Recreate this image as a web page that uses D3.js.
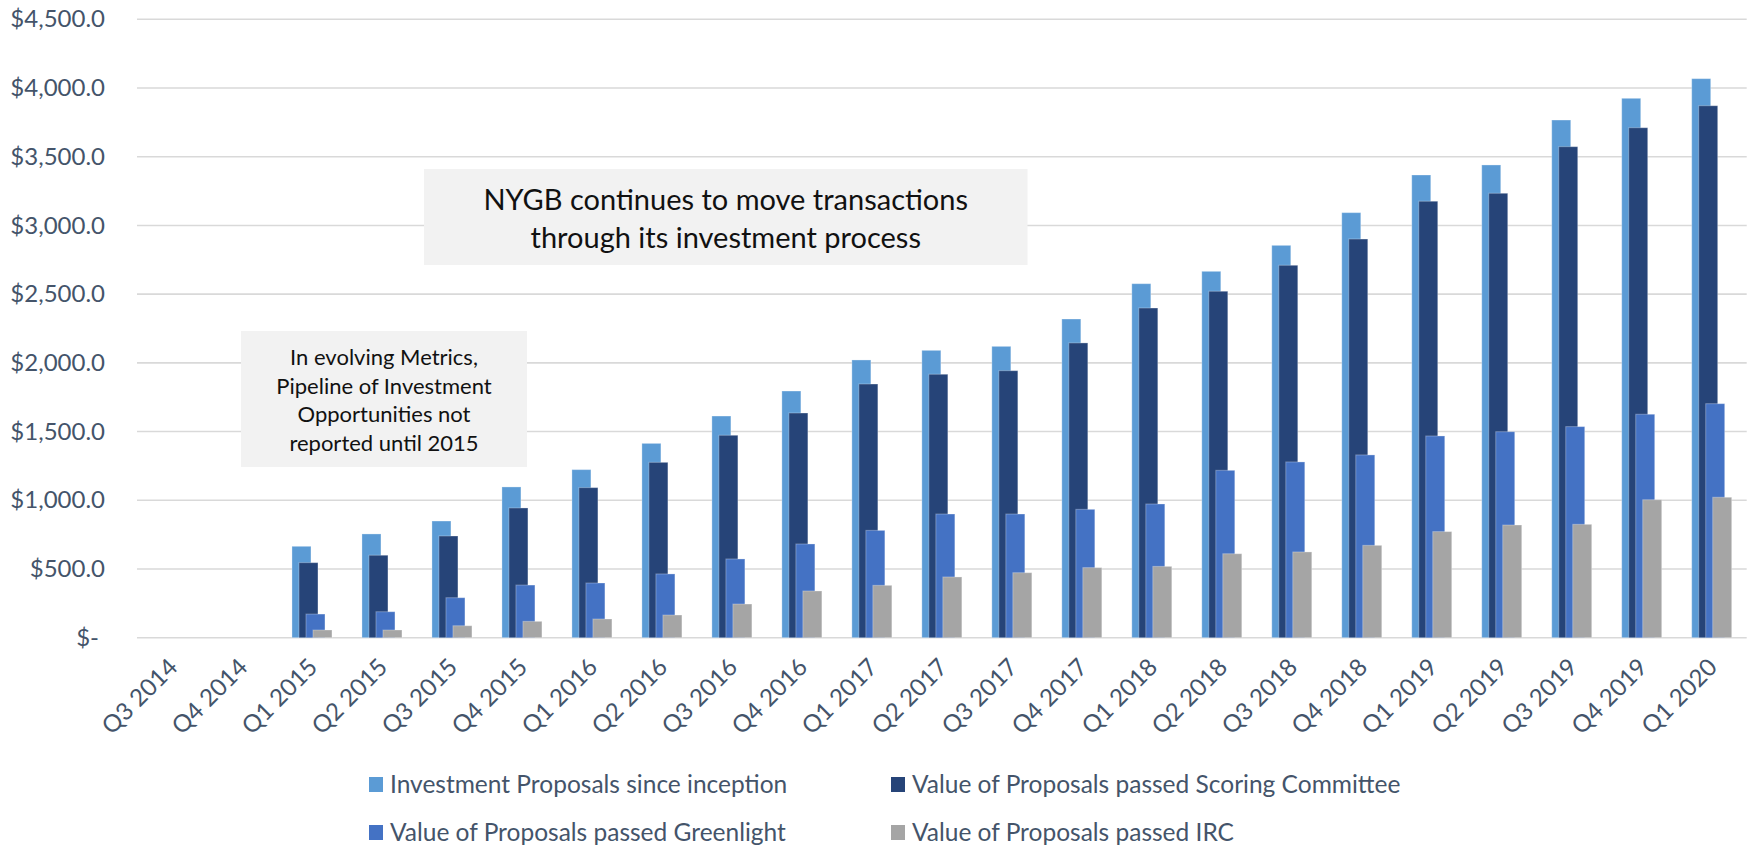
<!DOCTYPE html>
<html>
<head>
<meta charset="utf-8">
<style>
    body { margin: 0; background: #fff; }
    svg { display: block; font-family: Lato, 'Open Sans', sans-serif; }
</style>
</head>
<body>
<svg width="1752" height="846"></svg>
<script src="https://d3js.org/d3.v7.min.js"></script>
<script>
    // chart values
    let quarters = ["Q3 2014", "Q4 2014", "Q1 2015", "Q2 2015", "Q3 2015", "Q4 2015",
        "Q1 2016", "Q2 2016", "Q3 2016", "Q4 2016", "Q1 2017", "Q2 2017", "Q3 2017",
        "Q4 2017", "Q1 2018", "Q2 2018", "Q3 2018", "Q4 2018", "Q1 2019", "Q2 2019",
        "Q3 2019", "Q4 2019", "Q1 2020"]

    let proposals = [null, null, 665, 755, 849, 1097, 1223, 1414, 1613, 1795, 2021, 2091,
        2120, 2319, 2576, 2666, 2855, 3093, 3367, 3440, 3767, 3925, 4068]
    let scoring = [null, null, 546, 600, 740, 944, 1092, 1276, 1473, 1635, 1846, 1917,
        1943, 2145, 2399, 2521, 2710, 2901, 3176, 3234, 3573, 3711, 3871]
    let greenlight = [null, null, 172, 189, 291, 383, 398, 464, 573, 682, 781, 900,
        900, 934, 973, 1218, 1279, 1330, 1468, 1499, 1536, 1626, 1703]
    let irc = [null, null, 56, 56, 87, 119, 136, 165, 245, 340, 381, 442,
        473, 510, 519, 611, 624, 672, 772, 820, 825, 1004, 1022]

    let seriesNames = ["Investment Proposals since inception",
        "Value of Proposals passed Scoring Committee",
        "Value of Proposals passed Greenlight",
        "Value of Proposals passed IRC"]
    let yTicks = [0, 500, 1000, 1500, 2000, 2500, 3000, 3500, 4000, 4500]

    let noteBig = ["NYGB continues to move transactions", "through its investment process"]
    let noteSmall = ["In evolving Metrics,", "Pipeline of Investment", "Opportunities not", "reported until 2015"]

    let colors = ["#5B9BD5", "#264478", "#4472C4", "#A5A5A5"]
    let allSeries = [proposals, scoring, greenlight, irc]

    let svg = d3.select("svg")
    let textColor = "#44546A"

    let x = d3.scaleBand().domain(quarters).range([137, 1746.7]).padding(0)
    let y = d3.scaleLinear().domain([0, 4500]).range([637.7, 19.3])

    // gridlines
    svg.append("g")
        .selectAll("line")
        .data(yTicks)
        .join("line")
        .attr("x1", 137)
        .attr("x2", 1746.7)
        .attr("y1", d => y(d))
        .attr("y2", d => y(d))
        .attr("stroke", "#D9D9D9")
        .attr("stroke-width", 1.6)

    // y axis labels
    let fmt = v => v === 0 ? "$-" : "$" + d3.format(",.1f")(v)
    let yAxis = svg.append("g")
        .attr("transform", "translate(105,0)")
        .call(d3.axisLeft(y).tickValues(yTicks).tickFormat(fmt).tickSize(0).tickPadding(0))
    yAxis.select(".domain").remove()
    yAxis.selectAll("text")
        .attr("fill", textColor)
        .style("font-size", "24px")
        .style("font-family", "Lato")
        .attr("x", d => d === 0 ? -6 : 0)

    // bars
    let bw = x.bandwidth() * 0.2714
    let step = x.bandwidth() * 0.1
    let groupW = bw + step * 3

    allSeries.forEach((vals, i) => {
        svg.append("g")
            .selectAll("rect")
            .data(quarters.map((q, j) => ({ q: q, v: vals[j] })).filter(d => d.v != null))
            .join("rect")
            .attr("x", d => x(d.q) + (x.bandwidth() - groupW) / 2 + i * step)
            .attr("width", bw)
            .attr("y", d => y(d.v))
            .attr("height", d => y(0) - y(d.v))
            .attr("fill", colors[i])
            .attr("stroke", "#fff")
            .attr("stroke-opacity", 0.3)
            .attr("stroke-width", 1)
    })

    // x axis labels
    let xAxis = svg.append("g")
        .attr("transform", `translate(0,${y(0)})`)
        .call(d3.axisBottom(x).tickSize(0))
    xAxis.select(".domain").remove()
    xAxis.selectAll("text")
        .attr("y", 0)
        .attr("dy", 0)
        .attr("text-anchor", "end")
        .attr("transform", "translate(7,31) rotate(-45)")
        .attr("fill", textColor)
        .style("font-size", "24px")
        .style("font-family", "Lato")

    // annotation boxes
    function note(x0, y0, w, h, lines, size, lineH, firstBase) {
        svg.append("rect")
            .attr("x", x0).attr("y", y0)
            .attr("width", w).attr("height", h)
            .attr("fill", "#F2F2F2")
        svg.append("text")
            .attr("text-anchor", "middle")
            .attr("fill", "#111")
            .style("font-size", size + "px")
            .selectAll("tspan")
            .data(lines)
            .join("tspan")
            .attr("x", x0 + w / 2)
            .attr("y", (d, i) => firstBase + i * lineH)
            .text(d => d)
    }
    note(424, 169, 603.5, 96, noteBig, 29, 38, 210)
    note(241, 331, 286, 136, noteSmall, 22, 28.6, 365)

    // legend
    let legendPos = [[369, 784.5], [891, 784.5], [369, 832.5], [891, 832.5]]
    let legend = svg.append("g")
        .selectAll("g")
        .data(seriesNames)
        .join("g")
        .attr("transform", (d, i) => `translate(${legendPos[i][0]},${legendPos[i][1]})`)
    legend.append("rect")
        .attr("x", 0).attr("y", -7.5)
        .attr("width", 14).attr("height", 15)
        .attr("fill", (d, i) => colors[i])
    legend.append("text")
        .attr("x", 21)
        .attr("dy", "0.35em")
        .attr("fill", textColor)
        .style("font-size", "24.5px")
        .text(d => d)
</script>
</body>
</html>
